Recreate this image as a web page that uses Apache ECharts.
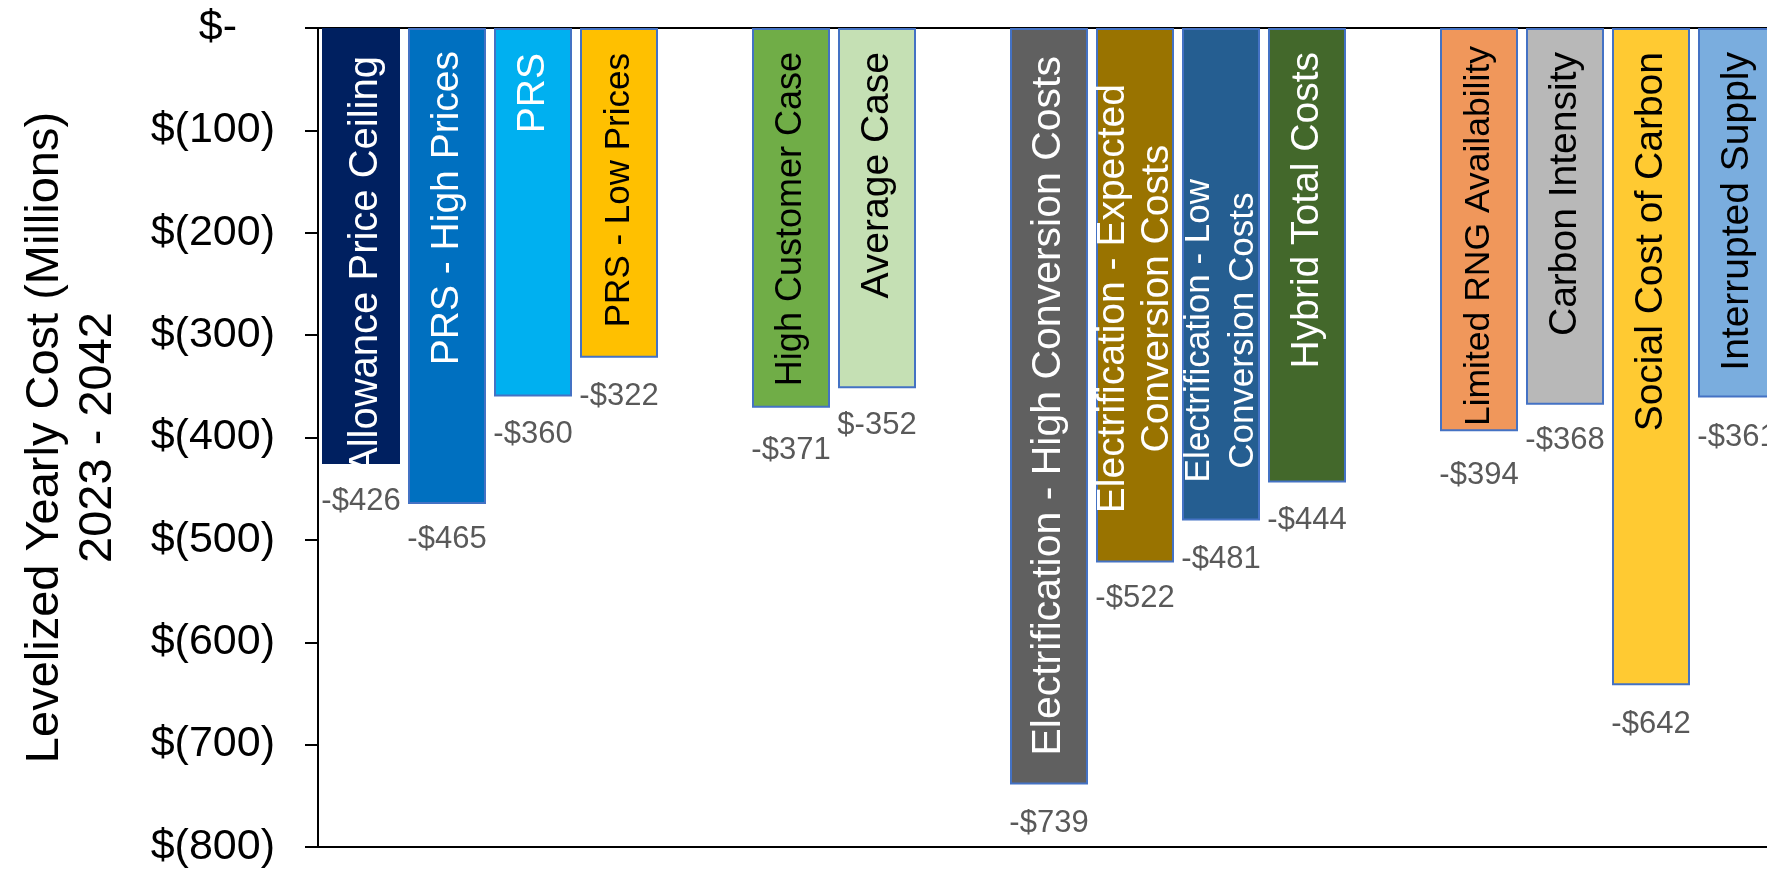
<!DOCTYPE html>
<html>
<head>
<meta charset="utf-8">
<script src="https://cdn.jsdelivr.net/npm/echarts@6/dist/echarts.min.js"></script>
<style>
  html, body { margin: 0; padding: 0; background: #ffffff; overflow: hidden; width: 1767px; height: 873px; }
  #chart { width: 1800px; height: 873px; }
</style>
</head>
<body>
<div id="chart"></div>
<script>
// ---------- DATA ----------
const categories = [
  'Allowance Price Ceiling',
  'PRS - High Prices',
  'PRS',
  'PRS - Low Prices',
  ' ',
  'High Customer Case',
  'Average Case',
  '  ',
  'Electrification - High Conversion Costs',
  'Electrification - Expected\nConversion Costs',
  'Electrification - Low\nConversion Costs',
  'Hybrid Total Costs',
  '   ',
  'Limited RNG Availability',
  'Carbon Intensity',
  'Social Cost of Carbon',
  'Interrupted Supply'
];
const costs = [-426, -465, -360, -322, null, -371, -352, null, -739, -522, -481, -444, null, -394, -368, -642, -361];
// one data label in the source uses a different number format
const dollarFirstLabels = ['Average Case'];
const yMin = -800, yMax = 0, yStep = 100;
const yTitle = 'Levelized Yearly Cost (Millions)\n2023 - 2042';

// ---------- STYLES ----------
const fills = ['#002060', '#0070C0', '#00B0F0', '#FFC000', null, '#70AD47', '#C5E0B4', null,
  '#606060', '#997300', '#255E91', '#43682B', null, '#F0975B', '#B8B8B8', '#FFCA32', '#7AADDE'];
const textColors = ['#fff', '#fff', '#fff', '#000', null, '#000', '#000', null,
  '#fff', '#fff', '#fff', '#fff', null, '#000', '#000', '#000', '#000'];
const nameSizes = [40, 39, 39, 35, 0, 36, 39, 0, 41, 39, 35, 39, 0, 35.5, 39, 39, 39];
const nameGaps = [28, 23, 25, 25, 0, 24, 24, 0, 28, 56, 151, 24, 0, 18, 24, 24, 24];
const nameShift = [5, 0, 0, 0, 0, 0, 0, 0, 0, 0, 0, 0, 0, 0, 0, 0, 0];
const valueGaps = [22, 20, 22, 23, 0, 27, 22, 0, 23, 21, 24, 22, 0, 29, 20, 24, 24];
const FONT = "'Liberation Sans', Arial, sans-serif";

function fmtValue(v, idx) {
  const a = Math.abs(v);
  return dollarFirstLabels.includes(categories[idx]) ? '$-' + a : '-$' + a;
}

const barData = costs.map((v, i) => v == null ? null : ({
  value: v,
  itemStyle: { color: fills[i], borderColor: i === 0 ? fills[i] : '#4472C4', borderWidth: 2 },
  label: { distance: valueGaps[i] }
}));

const nameData = costs.map((v, i) => {
  if (v == null) return null;
  const lines = categories[i].split('\n');
  const multi = lines.length > 1;
  return {
    value: v,
    label: {
      show: true,
      position: 'insideTop',
      distance: nameGaps[i],
      rotate: 90,
      align: 'right',
      verticalAlign: 'middle',
      offset: [0, nameShift[i]],
      color: textColors[i],
      fontSize: nameSizes[i],
      fontFamily: FONT,
      lineHeight: 44,
      formatter: multi ? lines.map(l => '{c|' + l + '}').join('\n') : categories[i],
      rich: {
        c: { align: 'center', color: textColors[i], fontSize: nameSizes[i], fontFamily: FONT, lineHeight: 44 }
      }
    }
  };
});

const chart = echarts.init(document.getElementById('chart'), null, { renderer: 'canvas' });
chart.setOption({
  animation: false,
  backgroundColor: '#ffffff',
  grid: {
    left: 318, top: 28, right: 20, bottom: 26,
    show: true, borderColor: '#000000', borderWidth: 2, backgroundColor: 'transparent'
  },
  xAxis: {
    type: 'category',
    data: categories,
    position: 'top',
    axisLine: { show: false },
    axisTick: { show: false },
    axisLabel: { show: false },
    splitLine: { show: false }
  },
  yAxis: {
    type: 'value',
    min: yMin, max: yMax, interval: yStep,
    name: yTitle,
    nameLocation: 'middle',
    nameRotate: 90,
    nameGap: 193,
    nameTextStyle: { fontSize: 47, lineHeight: 53, color: '#000', fontFamily: FONT, align: 'center' },
    axisLine: { show: true, lineStyle: { color: '#000', width: 2 } },
    axisTick: { show: true, inside: false, length: 13, lineStyle: { color: '#000', width: 2 } },
    splitLine: { show: false },
    axisLabel: {
      margin: 43,
      fontSize: 43,
      color: '#000',
      fontFamily: FONT,
      formatter: v => v === 0 ? '{z|$-}' : '$(' + Math.abs(v) + ')',
      rich: { z: { fontSize: 43, color: '#000', fontFamily: FONT, padding: [0, 38, 0, 0] } }
    }
  },
  series: [
    {
      type: 'bar',
      data: barData,
      barWidth: 78,
      barGap: '-100%',
      label: {
        show: true,
        position: 'bottom',
        color: '#595959',
        fontSize: 31,
        fontFamily: FONT,
        formatter: p => fmtValue(p.value, p.dataIndex)
      },
      emphasis: { disabled: true }
    },
    {
      type: 'bar',
      data: nameData,
      barWidth: 78,
      barGap: '-100%',
      itemStyle: { color: 'rgba(0,0,0,0)', borderWidth: 0 },
      emphasis: { disabled: true },
      silent: true
    }
  ]
});
</script>
</body>
</html>
